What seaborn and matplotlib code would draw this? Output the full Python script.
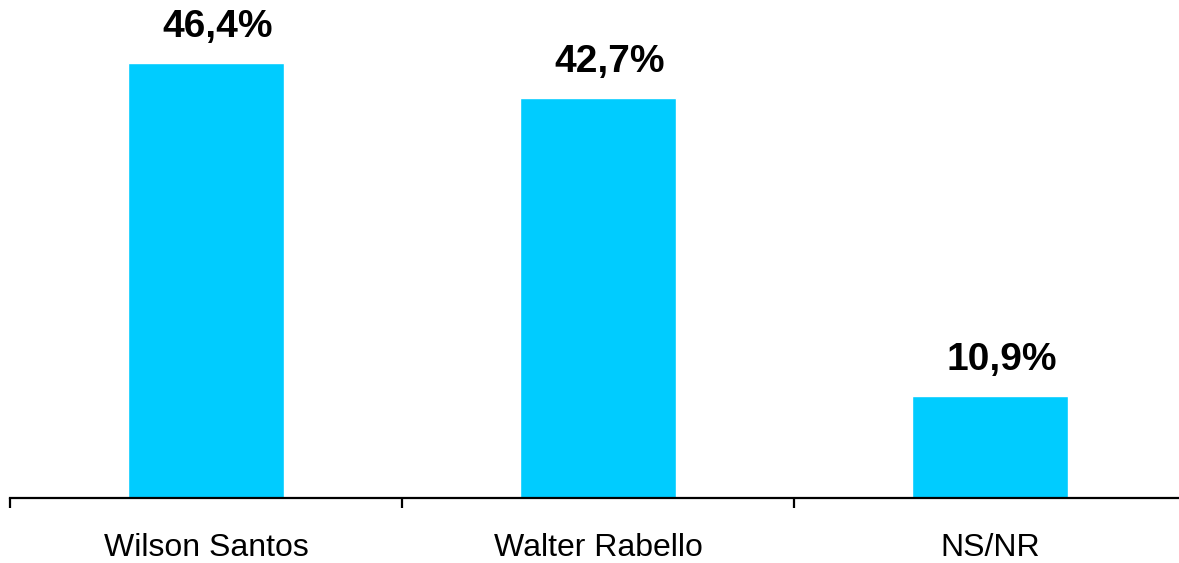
import pandas as pd
import matplotlib.pyplot as plt
import seaborn as sns

# Poll results
candidates = ["Wilson Santos", "Walter Rabello", "NS/NR"]
percent = [46.4, 42.7, 10.9]
labels = ["46,4%", "42,7%", "10,9%"]

df = pd.DataFrame({"candidate": candidates, "percent": percent})

sns.set_style("white")
plt.rcParams['font.family'] = ['Liberation Sans', 'DejaVu Sans']

fig = plt.figure(figsize=(11.79, 5.63), dpi=100)
ax = fig.add_axes([10 / 1179, 65 / 563, 1176 / 1179, 498 / 563])

sns.barplot(data=df, x="candidate", y="percent", color="#00CCFF",
            saturation=1, width=0.4, ax=ax)

for i, (v, lab) in enumerate(zip(percent, labels)):
    ax.text(i + 0.03, v + 1.9, lab, ha="center", va="bottom",
            fontsize=28, fontweight="bold", color="black")

ax.set_xlim(-0.5, 2.5)
ax.set_ylim(0, 53.1)
ax.set_xlabel("")
ax.set_ylabel("")
ax.set_yticks([])

for side in ["top", "right", "left"]:
    ax.spines[side].set_visible(False)
ax.spines["bottom"].set_linewidth(1.6)
ax.spines["bottom"].set_color("black")

ax.set_xticks([-0.5, 0.5, 1.5, 2.5], minor=True)
ax.tick_params(axis="x", which="minor", length=7, width=1.6, color="black",
               direction="out", bottom=True)
ax.tick_params(axis="x", which="major", length=0, pad=25, labelsize=23,
               labelcolor="black")

fig.savefig("out.png", dpi=100)
